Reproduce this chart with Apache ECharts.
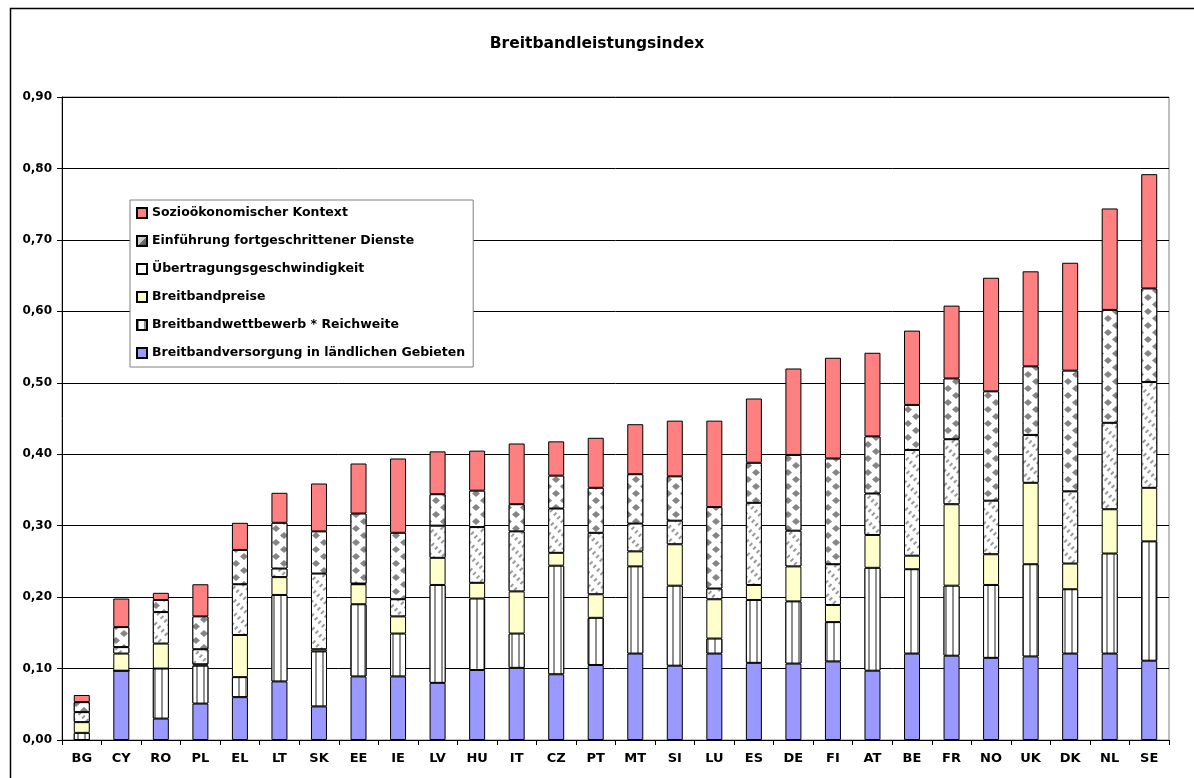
<!DOCTYPE html>
<html>
<head>
<meta charset="utf-8">
<script src="https://cdn.jsdelivr.net/npm/echarts@6/dist/echarts.min.js"></script>
<style>
html,body{margin:0;padding:0;background:#fff;}
#chart{width:1194px;height:778px;}
</style>
</head>
<body>
<div id="chart"></div>
<script>
const categories = ['BG','CY','RO','PL','EL','LT','SK','EE','IE','LV','HU','IT','CZ','PT','MT','SI','LU','ES','DE','FI','AT','BE','FR','NO','UK','DK','NL','SE'];
const yTicks = [0,0.1,0.2,0.3,0.4,0.5,0.6,0.7,0.8,0.9];
const versorgung = [0,0.097,0.030,0.051,0.060,0.082,0.047,0.089,0.089,0.080,0.098,0.101,0.092,0.105,0.121,0.104,0.121,0.108,0.107,0.110,0.097,0.121,0.118,0.115,0.117,0.121,0.121,0.111];
const wettbewerb = [0.010,0,0.070,0.053,0.028,0.121,0.077,0.101,0.060,0.137,0.100,0.048,0.152,0.066,0.122,0.112,0.021,0.088,0.087,0.055,0.144,0.118,0.098,0.102,0.129,0.090,0.140,0.167];
const preise = [0.015,0.024,0.035,0.002,0.059,0.025,0.003,0.028,0.024,0.038,0.022,0.059,0.018,0.033,0.021,0.058,0.055,0.021,0.049,0.024,0.046,0.019,0.114,0.043,0.114,0.036,0.062,0.075];
const uebertragung = [0.014,0.009,0.044,0.021,0.071,0.012,0.106,0.001,0.024,0.045,0.078,0.084,0.062,0.086,0.039,0.033,0.015,0.115,0.050,0.057,0.058,0.148,0.091,0.075,0.067,0.101,0.121,0.148];
const einfuehrung = [0.014,0.028,0.017,0.046,0.048,0.064,0.059,0.098,0.093,0.044,0.051,0.038,0.046,0.063,0.069,0.062,0.114,0.056,0.106,0.148,0.080,0.063,0.085,0.153,0.096,0.169,0.158,0.131];
const sozio = [0.010,0.040,0.010,0.045,0.038,0.042,0.067,0.070,0.104,0.060,0.056,0.085,0.048,0.070,0.070,0.078,0.121,0.090,0.121,0.141,0.117,0.104,0.102,0.159,0.133,0.151,0.142,0.160];

const names = {
  sozio: 'Sozioökonomischer Kontext',
  einf: 'Einführung fortgeschrittener Dienste',
  ueber: 'Übertragungsgeschwindigkeit',
  preise: 'Breitbandpreise',
  wett: 'Breitbandwettbewerb * Reichweite',
  vers: 'Breitbandversorgung in ländlichen Gebieten'
};

const FONT = 'DejaVu Sans';
const chart = echarts.init(document.getElementById('chart'), null, {renderer:'canvas'});

function bar(name, data, style) {
  return {
    name: name, type: 'bar', stack: 'total', data: data, barWidth: 16,
    itemStyle: Object.assign({borderColor:'#000', borderWidth:1}, style),
    emphasis: {disabled: true}
  };
}

chart.setOption({
  animation: false,
  backgroundColor: '#fff',
  graphic: [{
    type: 'rect', shape: {x: 10.5, y: 8.5, width: 1300, height: 900},
    style: {fill: 'none', stroke: '#000', lineWidth: 1.5}, silent: true, z: -1
  }],
  title: {
    text: 'Breitbandleistungsindex', left: 'center', top: 31,
    textStyle: {fontFamily: FONT, fontWeight: 'bold', fontSize: 15.5, color: '#000'}
  },
  legend: {
    orient: 'vertical', left: 130, top: 200,
    data: [
      names.sozio,
      {name: names.einf, itemStyle: {decal: 'none', color: {type: 'linear', x: 0, y: 0, x2: 1, y2: 1, colorStops: [
        {offset: 0, color: '#e0e0e0'}, {offset: 0.5, color: '#c8c8c8'}, {offset: 0.5, color: '#6e6e6e'}, {offset: 1, color: '#555'}]}}},
      {name: names.ueber, itemStyle: {decal: 'none', color: '#fff'}},
      names.preise, names.wett, names.vers],
    backgroundColor: '#fff', borderColor: '#808080', borderWidth: 1,
    padding: [6, 8, 7, 6], itemGap: 14, itemWidth: 10, itemHeight: 10, icon: 'rect',
    textStyle: {fontFamily: FONT, fontWeight: 'bold', fontSize: 12.5, color: '#000', lineHeight: 14},
    selectedMode: false
  },
  grid: {left: 62, right: 25, top: 97, bottom: 38, show: true, borderColor: '#808080', borderWidth: 1},
  xAxis: {
    type: 'category', data: categories,
    axisLine: {lineStyle: {color: '#000', width: 1}},
    axisTick: {show: true, alignWithLabel: false, length: 5, lineStyle: {color: '#000'}},
    axisLabel: {fontFamily: FONT, fontWeight: 'bold', fontSize: 13, color: '#000', margin: 12, interval: 0}
  },
  yAxis: {
    type: 'value', min: yTicks[0], max: yTicks[yTicks.length-1], interval: 0.1,
    axisLine: {show: true, lineStyle: {color: '#000', width: 1}},
    axisTick: {show: true, length: 5, lineStyle: {color: '#000'}},
    splitLine: {show: true, lineStyle: {color: '#000', width: 1}},
    axisLabel: {fontFamily: FONT, fontWeight: 'bold', fontSize: 12, color: '#000', margin: 10,
      formatter: v => v.toFixed(2).replace('.', ',')}
  },
  series: [
    bar(names.vers, versorgung, {color: '#9999FF'}),
    bar(names.wett, wettbewerb, {color: '#fff', decal: {symbol: 'rect', symbolSize: 1, color: '#909090', backgroundColor: '#fff', dashArrayX: [2, 5], dashArrayY: [1, 0], rotation: 0}}),
    bar(names.preise, preise, {color: '#FFFFCC'}),
    bar(names.ueber, uebertragung, {color: '#fff', decal: {symbol: 'rect', symbolSize: 1, color: '#9a9a9a', backgroundColor: '#fff', dashArrayX: [4, 5], dashArrayY: [1.2, 3], rotation: -Math.PI / 4}}),
    bar(names.einf, einfuehrung, {color: '#fff', decal: {symbol: 'diamond', symbolSize: 1, symbolKeepAspect: false, color: '#858585', backgroundColor: '#fff', dashArrayX: [[8, 8], [0, 8, 8, 0]], dashArrayY: [7, 0], rotation: 0}}),
    bar(names.sozio, sozio, {color: '#FF8080'})
  ]
});
</script>
</body>
</html>
